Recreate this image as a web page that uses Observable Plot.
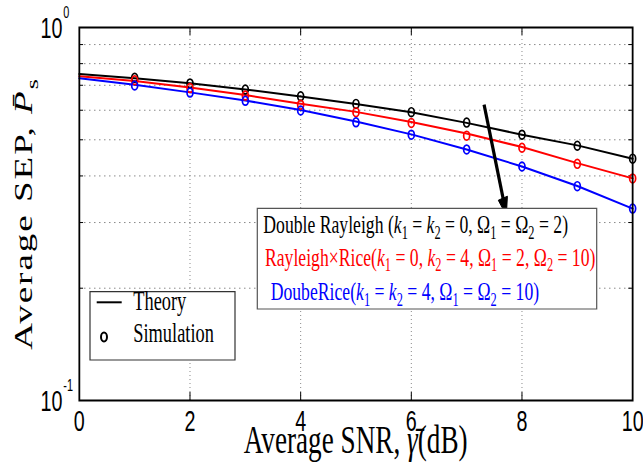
<!DOCTYPE html>
<html><head><meta charset="utf-8">
<script src="https://cdn.jsdelivr.net/npm/d3@7"></script>
<script src="https://cdn.jsdelivr.net/npm/@observablehq/plot@0.6"></script>
<style>
html,body{margin:0;padding:0;background:#fff;overflow:hidden;}
#chart{width:643px;height:464px;}
#chart svg path, #chart svg line, #chart svg rect, #chart svg circle, #chart svg ellipse, #chart svg polygon { vector-effect: non-scaling-stroke; }
</style></head><body><div id="chart"></div>
<script>
// ---------- data ----------
const snrDb = [0, 1, 2, 3, 4, 5, 6, 7, 8, 9, 10];
const simSnrDb = [1, 2, 3, 4, 5, 6, 7, 8, 9, 10];
const seriesNames = ["Double Rayleigh", "Rayleigh×Rice", "DoubeRice"];
const seriesColors = ["#000000", "#ff0000", "#0000ff"];
const theoryDoubleRayleigh = [0.751, 0.731, 0.709, 0.682, 0.653, 0.624, 0.593, 0.555, 0.516, 0.483, 0.445];
const theoryRayleighRice   = [0.740, 0.719, 0.690, 0.659, 0.625, 0.594, 0.558, 0.520, 0.478, 0.433, 0.394];
const theoryDoubleRice     = [0.731, 0.702, 0.670, 0.637, 0.601, 0.560, 0.517, 0.471, 0.424, 0.376, 0.327];
const simDoubleRayleigh = [0.733, 0.708, 0.682, 0.654, 0.624, 0.593, 0.556, 0.516, 0.482, 0.445];
const simRayleighRice   = [0.722, 0.688, 0.657, 0.621, 0.593, 0.555, 0.513, 0.476, 0.431, 0.394];
const simDoubleRice     = [0.699, 0.669, 0.636, 0.599, 0.557, 0.516, 0.471, 0.424, 0.3755, 0.327];
const xTickValues = [0, 2, 4, 6, 8, 10];
const xTickLabels = ["0", "2", "4", "6", "8", "10"];
const xGridValues = [2, 4, 6, 8];
const yMajorTicks = [0.1, 1];
const yMajorBase = ["10", "10"];
const yMajorExp = ["-1", "0"];
const yMinorTicks = [0.2, 0.3, 0.4, 0.5, 0.6, 0.7, 0.8, 0.9];
const arrowSnr = [7.315, 7.713];
const arrowSep = [0.621, 0.318];
const xLabel = "Average SNR, *γ̄*(dB)";
const yLabel = "Average SEP, *P̄*_{s}";
const legendLines = [
  "Double Rayleigh (*k*_{1} = *k*_{2} = 0, Ω_{1} = Ω_{2} = 2)",
  "Rayleigh×Rice(*k*_{1} = 0, *k*_{2} = 4, Ω_{1} = 2, Ω_{2} = 10)",
  "DoubeRice(*k*_{1} = *k*_{2} = 4, Ω_{1} = Ω_{2} = 10)"
];
const legendKinds = ["Theory", "Simulation"];

// ---------- tables ----------
const theorySeries = [theoryDoubleRayleigh, theoryRayleighRice, theoryDoubleRice];
const simSeries = [simDoubleRayleigh, simRayleighRice, simDoubleRice];
const theoryRows = seriesNames.flatMap((s, k) => snrDb.map((x, i) => ({series: s, snr: x, sep: theorySeries[k][i]})));
const simRows = seriesNames.flatMap((s, k) => simSnrDb.map((x, i) => ({series: s, snr: x, sep: simSeries[k][i]})));
const arrowRows = [{x1: arrowSnr[0], y1: arrowSep[0], x2: arrowSnr[1], y2: arrowSep[1]}];

// ---------- layout (design space, compressed horizontally on screen) ----------
const SCREEN_W = 643, H = 464;
const S = 0.68;
const W = Math.round(SCREEN_W / S);
const sx = SCREEN_W / W;
const ML = 79 / sx, MR = (SCREEN_W - 632.3) / sx, MT = 27, MB = 64;
const PW = W - ML - MR, PH = H - MT - MB;

const plot = Plot.plot({
  width: W, height: H,
  marginLeft: ML, marginRight: MR, marginTop: MT, marginBottom: MB,
  x: {domain: [0, 10], axis: null},
  y: {type: "log", domain: [0.1, 1], axis: null},
  color: {domain: seriesNames, range: seriesColors},
  style: {background: "white", color: "black", fontFamily: "Liberation Sans"},
  marks: [
    Plot.ruleX(xGridValues, {stroke: "#8a8a8a", strokeWidth: 1, strokeDasharray: "1,3"}),
    Plot.ruleY(yMinorTicks, {stroke: "#8a8a8a", strokeWidth: 1, strokeDasharray: "1.5,3.5"}),
    Plot.ruleX(xGridValues, {insetTop: PH - 8, stroke: "black", strokeWidth: 1}),
    Plot.ruleX(xGridValues, {insetBottom: PH - 8, stroke: "black", strokeWidth: 1}),
    Plot.ruleY(yMinorTicks, {insetRight: PW - 6, stroke: "black", strokeWidth: 1}),
    Plot.ruleY(yMinorTicks, {insetLeft: PW - 6, stroke: "black", strokeWidth: 1}),
    Plot.line(theoryRows, {x: "snr", y: "sep", z: "series", stroke: "series", strokeWidth: 2}),
    Plot.dot(simRows, {x: "snr", y: "sep", stroke: "series", r: 4.4, strokeWidth: 1.7, fill: "none"}),
    Plot.link(arrowRows, {x1: "x1", y1: "y1", x2: "x2", y2: "y2", stroke: "black", strokeWidth: 3.2}),
    Plot.frame({stroke: "black", strokeWidth: 1.8}),
    Plot.text(xTickValues, {x: d => d, frameAnchor: "bottom", text: (d, i) => xTickLabels[i], dy: 21, fontSize: 29, lineAnchor: "middle", fill: "black"}),
    Plot.text(yMajorTicks, {y: d => d, frameAnchor: "left", text: (d, i) => yMajorBase[i], textAnchor: "end", dx: -25, dy: 1, fontSize: 29, lineAnchor: "middle", fill: "black"}),
    Plot.text(yMajorTicks, {y: d => d, frameAnchor: "left", text: (d, i) => yMajorExp[i], textAnchor: "start", dx: -23.5, dy: -14.5, fontSize: 16, lineAnchor: "middle", fill: "black"})
  ]
});

const svgEl = plot.tagName.toLowerCase() === "svg" ? plot : plot.querySelector("svg");
svgEl.setAttribute("width", SCREEN_W);
svgEl.setAttribute("height", H);
svgEl.setAttribute("viewBox", `0 0 ${W} ${H}`);
svgEl.setAttribute("preserveAspectRatio", "none");
svgEl.style.width = SCREEN_W + "px";
svgEl.style.height = H + "px";
svgEl.style.maxWidth = "none";
svgEl.style.background = "white";
document.getElementById("chart").appendChild(plot);

const svg = d3.select(svgEl);
const xs = plot.scale("x"), ys = plot.scale("y");

function richText(parent, str, {x, y, size, fill = "black", anchor = "start", family = "Liberation Serif", transform = null, spacing = null}) {
  const t = parent.append("text")
    .attr("x", x).attr("y", y)
    .attr("font-size", size).attr("font-family", family)
    .attr("fill", fill).attr("text-anchor", anchor);
  if (transform) t.attr("transform", transform);
  if (spacing) t.attr("letter-spacing", spacing);
  const tokens = str.split(/(\*[^*]+\*|_\{[^}]+\})/).filter(s => s.length);
  let shift = 0;
  for (const tok of tokens) {
    const ts = t.append("tspan");
    let target = 0;
    if (tok.startsWith("*")) ts.text(tok.slice(1, -1)).attr("font-style", "italic");
    else if (tok.startsWith("_{")) { ts.text(tok.slice(2, -1)).attr("font-size", size * 0.7); target = size * 0.22; }
    else ts.text(tok);
    if (target !== shift) { ts.attr("dy", target - shift); shift = target; }
  }
  return t;
}

// arrow head
{
  const tx = xs.apply(arrowSnr[1]), ty = ys.apply(arrowSep[1]);
  const fx = xs.apply(arrowSnr[0]), fy = ys.apply(arrowSep[0]);
  const dx = tx - fx, dy = ty - fy, len = Math.hypot(dx, dy);
  const ux = dx / len, uy = dy / len;
  const tipX = tx + ux * 3, tipY = ty + uy * 3;
  const hl = 18, hw = 7;
  const bx = tipX - ux * hl, by = tipY - uy * hl;
  svg.append("polygon")
    .attr("points", [[tipX, tipY], [bx - uy * hw, by + ux * hw], [bx + uy * hw, by - ux * hw]].map(p => p.join(",")).join(" "))
    .attr("fill", "black").attr("stroke", "black").attr("stroke-width", 1);
}

// axis labels
richText(svg, xLabel, {x: ML + PW / 2, y: 453, size: 40, anchor: "middle"});
richText(svg, yLabel, {x: 0, y: 0, size: 37, anchor: "middle", spacing: 2, transform: `translate(${32 / sx},${MT + PH / 2}) rotate(-90)`});

// series legend
{
  const g = svg.append("g");
  g.append("rect").attr("x", 257.3 / sx).attr("y", 208.3).attr("width", (596.7 - 257.3) / sx).attr("height", 100.7)
    .attr("fill", "white").attr("stroke", "#555").attr("stroke-width", 1.2);
  const lx = [263.3, 265, 270.7], ly = [233, 265.7, 300];
  legendLines.forEach((s, i) => richText(g, s, {x: lx[i] / sx, y: ly[i], size: 26, fill: seriesColors[i]}));
}
// kind legend
{
  const g = svg.append("g");
  g.append("rect").attr("x", 90 / sx).attr("y", 291.7).attr("width", (235 - 90) / sx).attr("height", 68.3)
    .attr("fill", "white").attr("stroke", "#333").attr("stroke-width", 1.2);
  g.append("line").attr("x1", 96.7 / sx).attr("x2", 121.7 / sx).attr("y1", 302.3).attr("y2", 302.3)
    .attr("stroke", "black").attr("stroke-width", 2);
  g.append("circle").attr("cx", 104 / sx).attr("cy", 337).attr("r", 4.4)
    .attr("fill", "none").attr("stroke", "black").attr("stroke-width", 2);
  richText(g, legendKinds[0], {x: 133.3 / sx, y: 310.5, size: 27});
  richText(g, legendKinds[1], {x: 133.3 / sx, y: 342, size: 27});
}
</script></body></html>
